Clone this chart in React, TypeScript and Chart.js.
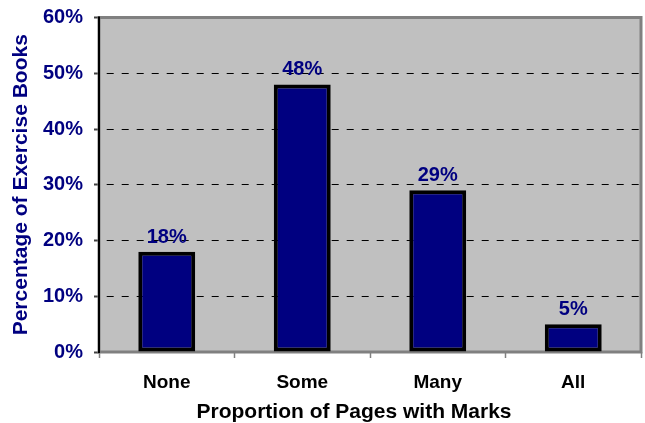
import React, { useEffect, useRef } from "react";
import { Chart, registerables } from "chart.js";

Chart.register(...registerables);

// Share of exercise books by how many of their pages carry marks
const categories = ["None", "Some", "Many", "All"];
const percentages = [18, 48, 29, 5];
const yTickValues = [0, 10, 20, 30, 40, 50, 60];
const xAxisTitle = "Proportion of Pages with Marks";
const yAxisTitle = "Percentage of Exercise Books";

const FONT = 'Arial, "Liberation Sans", sans-serif';
const NAVY = "#000080";
const PLOT_GREY = "#C0C0C0";
const FRAME_GREY = "#808080";

// Grey plot background, framed plot area, value labels and axis titles
const framePlugin = {
  id: "plotFrame",
  beforeDraw(chart: any) {
    const { ctx, chartArea: a } = chart;
    ctx.save();
    ctx.fillStyle = PLOT_GREY;
    ctx.fillRect(a.left, a.top, a.right - a.left, a.bottom - a.top);
    ctx.restore();
  },
  beforeDatasetsDraw(chart: any) {
    const { ctx, chartArea: a } = chart;
    ctx.save();
    ctx.strokeStyle = FRAME_GREY;
    ctx.lineWidth = 3;
    ctx.strokeRect(a.left, a.top, a.right - a.left, a.bottom - a.top);
    ctx.strokeStyle = "#000";
    ctx.lineWidth = 2;
    ctx.beginPath();
    ctx.moveTo(a.left, a.top - 1);
    ctx.lineTo(a.left, a.bottom + 1);
    ctx.stroke();
    ctx.restore();
  },
  afterDatasetsDraw(chart: any) {
    const { ctx } = chart;
    const meta = chart.getDatasetMeta(0);
    ctx.save();
    ctx.fillStyle = NAVY;
    ctx.font = `bold 20px ${FONT}`;
    ctx.textAlign = "center";
    ctx.textBaseline = "alphabetic";
    meta.data.forEach((bar: any, i: number) => {
      ctx.fillText(`${percentages[i]}%`, bar.x, bar.y - 9);
    });
    ctx.restore();
  },
  afterDraw(chart: any) {
    const { ctx, chartArea: a } = chart;
    ctx.save();
    ctx.font = `bold 21px ${FONT}`;
    ctx.textAlign = "center";
    ctx.textBaseline = "alphabetic";
    ctx.fillStyle = "#000";
    ctx.fillText(xAxisTitle, 354, 418);
    ctx.translate(27, (a.top + a.bottom) / 2);
    ctx.rotate(-Math.PI / 2);
    ctx.fillStyle = NAVY;
    ctx.fillText(yAxisTitle, 0, 0);
    ctx.restore();
  },
};

export default function App() {
  const canvasRef = useRef<HTMLCanvasElement | null>(null);

  useEffect(() => {
    document.body.style.margin = "0";
    const canvas = canvasRef.current;
    if (!canvas) return;
    const chart = new Chart(canvas, {
      type: "bar",
      data: {
        labels: categories,
        datasets: [
          {
            data: percentages,
            backgroundColor: NAVY,
            borderColor: "#000",
            borderWidth: 4,
            borderSkipped: false,
            barPercentage: 0.42,
            categoryPercentage: 1,
          },
        ],
      },
      options: {
        responsive: false,
        animation: false,
        devicePixelRatio: 1,
        layout: { padding: { top: 17.5, right: 4, left: 0, bottom: 0 } },
        plugins: {
          legend: { display: false },
          tooltip: { enabled: false },
          title: { display: false },
        },
        scales: {
          x: {
            grid: {
              offset: true,
              drawOnChartArea: false,
              drawTicks: true,
              tickLength: 6,
              tickColor: FRAME_GREY,
              tickWidth: 1.5,
            },
            border: { display: false },
            ticks: {
              color: "#000",
              font: { family: FONT, size: 19, weight: "bold" },
              padding: 13,
              maxRotation: 0,
            },
            afterFit(scale: any) {
              scale.height = 71;
              scale.paddingLeft = 0;
              scale.paddingRight = 0;
            },
          },
          y: {
            min: 0,
            max: 60,
            afterBuildTicks(scale: any) {
              scale.ticks = yTickValues.map((v) => ({ value: v }));
            },
            grid: {
              color: "#000",
              lineWidth: 1,
              drawTicks: true,
              tickLength: 5,
              tickColor: "#404040",
              tickWidth: 2,
            },
            border: { display: false, dash: [7, 8], dashOffset: 7.3 },
            ticks: {
              color: NAVY,
              font: { family: FONT, size: 20, weight: "bold" },
              padding: 11,
              callback: (v: any) => `${v}%`,
            },
            afterFit(scale: any) {
              scale.width = 99;
              scale.paddingTop = 0;
              scale.paddingBottom = 0;
            },
          },
        },
      },
      plugins: [framePlugin],
    });
    return () => chart.destroy();
  }, []);

  return <canvas ref={canvasRef} width={645} height={423} />;
}
